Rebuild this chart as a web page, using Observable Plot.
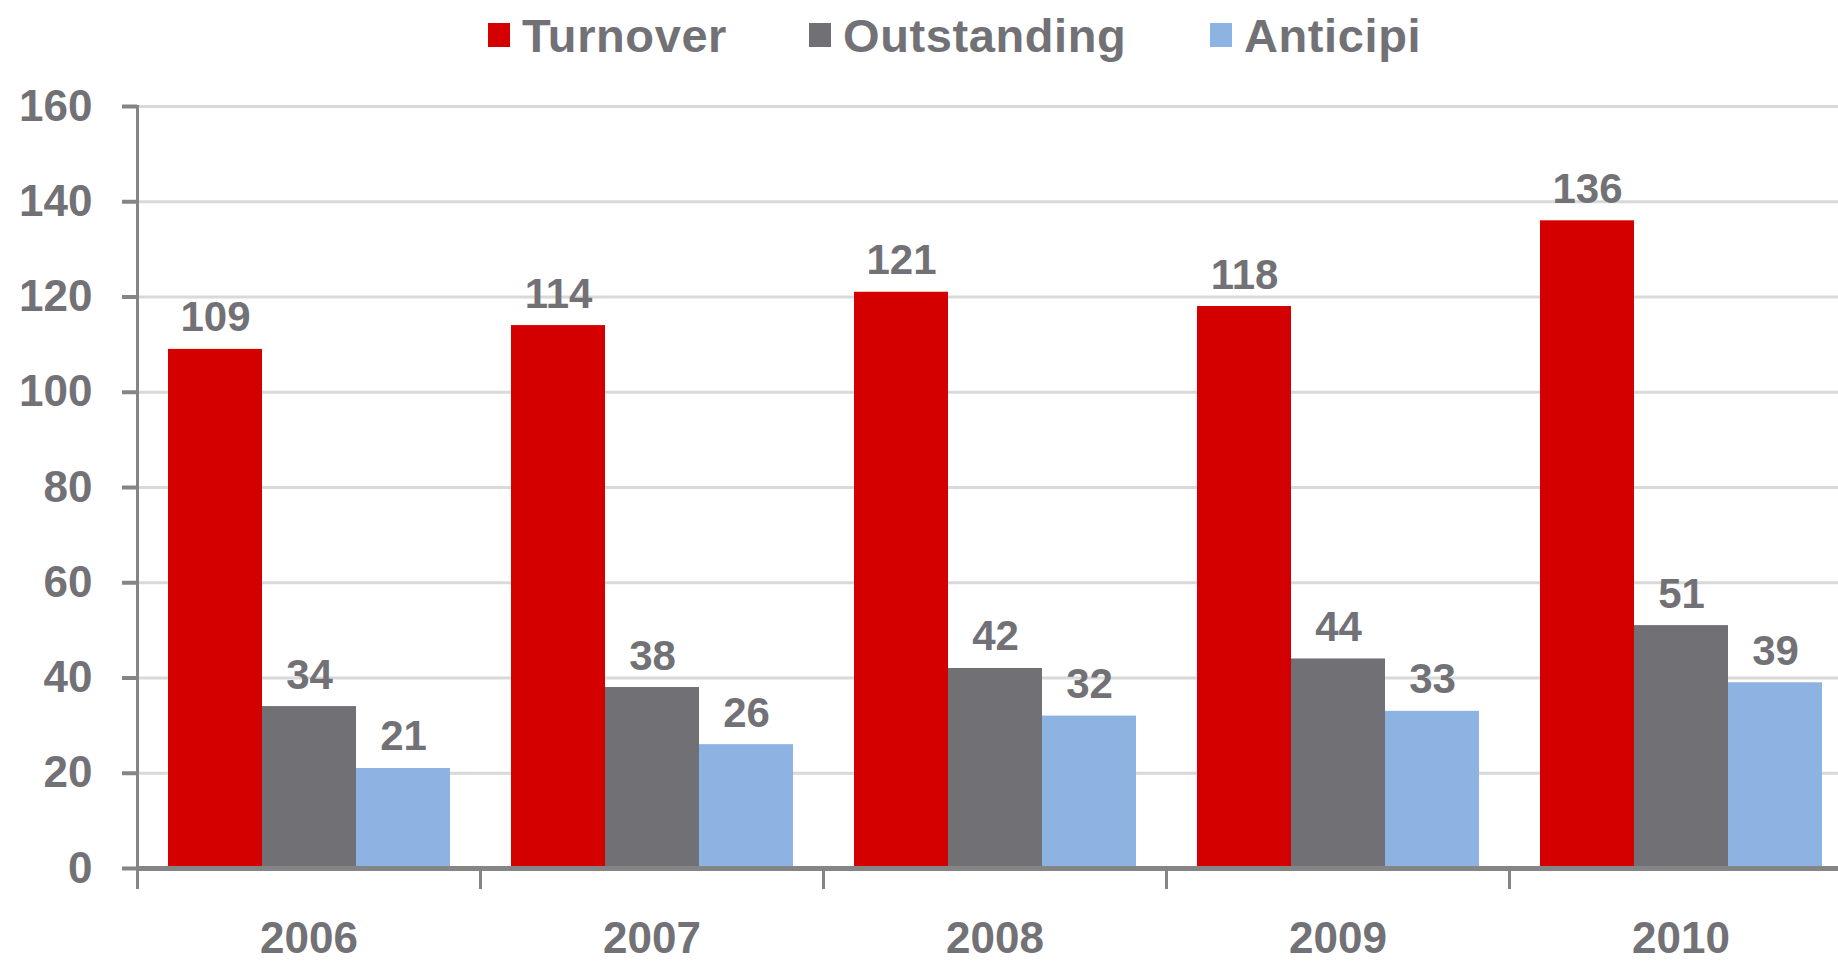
<!DOCTYPE html>
<html>
<head>
<meta charset="utf-8">
<script src="https://cdn.jsdelivr.net/npm/d3@7"></script>
<script src="https://cdn.jsdelivr.net/npm/@observablehq/plot@0.6"></script>
<style>
html, body { margin: 0; padding: 0; background: #fff; overflow: hidden; }
#wrap { position: relative; width: 1838px; height: 961px; overflow: hidden; }
#legend { position: absolute; top: 11px; left: 0; width: 1838px; height: 48px;
  font: bold 47px "Liberation Sans", Arial, sans-serif; color: #717176; line-height: 1; white-space: nowrap; }
#legend .item { position: absolute; top: 0; display: flex; align-items: center; height: 48px; letter-spacing: 0.6px; }
#legend .sw { width: 22px; height: 24px; margin-right: 12px; }
#chart { position: absolute; top: 0; left: 0; }
#chart svg { max-width: none !important; }
</style>
</head>
<body>
<div id="wrap"><div id="chart"></div><div id="legend"></div></div>
<script>
const years = ["2006", "2007", "2008", "2009", "2010"];
const series = ["Turnover", "Outstanding", "Anticipi"];
const turnover = [109, 114, 121, 118, 136];
const outstanding = [34, 38, 42, 44, 51];
const anticipi = [21, 26, 32, 33, 39];
const colors = ["#d40000", "#717175", "#8db3e2"];
const yTicks = [0, 20, 40, 60, 80, 100, 120, 140, 160];

const valuesBySeries = [turnover, outstanding, anticipi];
const rows = [];
years.forEach((year, i) => {
  series.forEach((s, j) => rows.push({year, series: s, value: valuesBySeries[j][i]}));
});

const textColor = "#717176";
const axisColor = "#858585";
const font = '"Liberation Sans", Arial, sans-serif';

const W = 1854, H = 961, ML = 135, MR = 0, MT = 106, MB = 93;

const chart = Plot.plot({
  width: W, height: H,
  marginTop: MT, marginBottom: MB, marginLeft: ML, marginRight: MR,
  style: {fontFamily: font, background: "transparent", overflow: "visible", maxWidth: "none"},
  fx: {domain: years, padding: 0, label: null},
  x: {domain: series, paddingInner: 0, paddingOuter: 0.32, axis: null},
  y: {domain: [0, 160], label: null},
  color: {domain: series, range: colors},
  marks: [
    Plot.gridY(yTicks, {stroke: "#d9d9d9", strokeWidth: 3, strokeOpacity: 1}),
    Plot.barY(rows, {fx: "year", x: "series", y: "value", fill: "series"}),
    Plot.text(rows, {fx: "year", x: "series", y: "value", text: d => String(d.value),
      lineAnchor: "bottom", dy: -18, fontSize: 42, fontWeight: "bold", fill: textColor}),
    Plot.ruleY([0], {stroke: axisColor, strokeWidth: 5}),
    Plot.axisY(yTicks, {tickSize: 15, tickPadding: 30, stroke: axisColor, strokeWidth: 4,
      fill: textColor, fontSize: 44, fontWeight: "bold", label: null}),
    Plot.frame({anchor: "left", facetAnchor: "left", stroke: axisColor, strokeWidth: 3, insetBottom: -19}),
    Plot.frame({anchor: "left", stroke: axisColor, strokeWidth: 3,
      insetTop: H - MT - MB, insetBottom: -19}),
    Plot.axisFx({anchor: "bottom", tickSize: 0, tickPadding: 53, fill: textColor,
      fontSize: 44, fontWeight: "bold", label: null})
  ]
});
document.getElementById("chart").appendChild(chart);

const legendLefts = [488, 809, 1210];
const legend = document.getElementById("legend");
series.forEach((s, j) => {
  const item = document.createElement("div");
  item.className = "item";
  item.style.left = legendLefts[j] + "px";
  const sw = document.createElement("div");
  sw.className = "sw";
  sw.style.background = colors[j];
  const label = document.createElement("span");
  label.textContent = s;
  item.appendChild(sw);
  item.appendChild(label);
  legend.appendChild(item);
});
</script>
</body>
</html>
